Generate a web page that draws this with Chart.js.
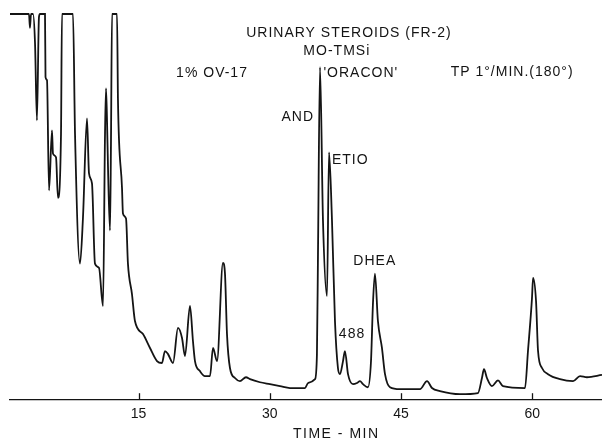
<!DOCTYPE html>
<html>
<head>
<meta charset="utf-8">
<script src="https://cdn.jsdelivr.net/npm/chart.js@4.4.1/dist/chart.umd.min.js"></script>
<style>
  html, body { margin: 0; padding: 0; background: #fff; }
  #wrap { width: 602px; height: 441px; }
</style>
</head>
<body>
<div id="wrap"><canvas id="gcChart"></canvas></div>
<script>
// retention time (min) and detector response (% of full scale)
const timeMin = [
  0.31, 2.48, 2.59, 2.71, 2.94, 3.17, 3.39, 3.62, 3.74, 4.31,
  4.37, 4.54, 4.77, 5.11, 5.22, 5.57, 5.79, 6.14, 6.25, 7.51,
  7.74, 8.31, 8.65, 9.11, 9.34, 9.68, 10.02, 10.48, 10.94, 11.17,
  11.28, 11.39, 11.51, 11.74, 11.85, 11.97, 12.54, 12.65, 13.11, 13.22,
  13.57, 13.79, 14.25, 14.59, 15.51, 16.31, 17.11, 17.68, 18.02, 18.37,
  18.94, 19.51, 19.97, 20.31, 20.88, 21.22, 21.45, 22.02, 22.59, 23.17,
  23.51, 23.97, 24.65, 24.88, 25.11, 25.45, 26.02, 26.59, 27.28, 27.74,
  28.88, 30.02, 31.17, 32.31, 34.03, 34.37, 35.17, 35.39, 35.51, 35.74,
  36.08, 36.54, 36.77, 37.11, 37.45, 37.79, 38.02, 38.37, 38.59, 38.94,
  39.51, 39.97, 40.31, 40.65, 41.22, 41.57, 41.79, 42.02, 42.36, 42.82,
  43.17, 43.74, 44.88, 47.17, 47.97, 48.54, 49.45, 51.74, 53.79, 54.25,
  54.48, 54.82, 55.39, 56.08, 56.65, 59.17, 59.51, 59.97, 60.09, 60.43,
  60.66, 61.11, 61.80, 63.17, 64.66, 65.46, 66.25, 67.97
];
const response = [
  100, 100, 96.4, 100, 100, 92.4, 72.4, 99.2, 100, 100,
  83.6, 82.8, 54.2, 69.8, 63.8, 62.8, 52.3, 69.0, 100, 100,
  69.0, 35.2, 47.1, 72.9, 58.6, 56.0, 35.2, 34.1, 24.2, 69.0,
  80.7, 73.2, 60.2, 43.8, 66.4, 100, 100, 77.6, 54.9, 48.2,
  46.9, 35.2, 27.3, 20.3, 16.9, 13.3, 9.9, 9.4, 12.5, 11.7,
  9.4, 18.5, 15.9, 11.2, 24.2, 15.1, 9.9, 7.3, 6.0, 6.0,
  13.3, 9.9, 35.4, 32.6, 16.9, 8.1, 5.5, 4.7, 5.7, 5.2,
  4.4, 3.9, 3.4, 2.9, 2.9, 4.2, 5.2, 11.7, 37.8, 86.2,
  46.4, 26.8, 64.1, 46.4, 20.3, 8.1, 6.5, 9.9, 12.5, 6.5,
  3.9, 4.2, 4.7, 3.9, 3.1, 9.9, 24.7, 32.6, 20.3, 13.3,
  6.5, 3.1, 2.6, 2.6, 4.7, 2.9, 2.1, 1.3, 1.6, 5.5,
  7.8, 5.5, 3.4, 4.9, 3.4, 2.9, 12.5, 26.3, 31.5, 25.5,
  12.5, 8.1, 6.5, 5.2, 4.7, 6.0, 5.7, 6.3
];
const tickValues = [15, 30, 45, 60];

// text on the trace, placed in data units (min, %)
const notes = [
  { text: 'URINARY STEROIDS (FR-2)', x: 39.05, y: 95.1 },
  { text: 'MO-TMSi', x: 37.66, y: 90.4 },
  { text: '1% OV-17', x: 23.4, y: 84.6 },
  { text: "'ORACON'", x: 40.4, y: 84.6 },
  { text: 'TP 1°/MIN.(180°)', x: 57.7, y: 84.9 },
  { text: 'AND', x: 33.2, y: 73.2 },
  { text: 'ETIO', x: 39.2, y: 62.0 },
  { text: 'DHEA', x: 42.0, y: 35.9 },
  { text: '488', x: 39.4, y: 16.9 }
];

const INK = '#141414';
const FONT = '"Liberation Sans", Arial, sans-serif';

const notesPlugin = {
  id: 'notes',
  afterDatasetsDraw(chart) {
    const { ctx, scales: { x, y } } = chart;
    ctx.save();
    ctx.fillStyle = INK;
    ctx.strokeStyle = INK;
    ctx.font = '14px ' + FONT;
    ctx.letterSpacing = '1px';
    ctx.textAlign = 'center';
    ctx.textBaseline = 'middle';
    notes.forEach(n => {
      ctx.fillText(n.text, x.getPixelForValue(n.x), y.getPixelForValue(n.y));
    });

    // short tick marks standing up from the axis
    const base = y.getPixelForValue(0);
    ctx.lineWidth = 1.3;
    tickValues.forEach(v => {
      const px = Math.round(x.getPixelForValue(v)) + 0.5;
      ctx.beginPath();
      ctx.moveTo(px, base);
      ctx.lineTo(px, base - 6);
      ctx.stroke();
    });

    // axis title
    ctx.letterSpacing = '1.5px';
    ctx.fillText('TIME - MIN', x.getPixelForValue(37.6), base + 35);
    ctx.restore();
  }
};

new Chart(document.getElementById('gcChart'), {
  type: 'line',
  data: {
    datasets: [{
      data: timeMin.map((t, i) => ({ x: t, y: response[i] })),
      borderColor: INK,
      borderWidth: 1.8,
      pointRadius: 0,
      cubicInterpolationMode: 'monotone',
      fill: false,
      clip: 6
    }]
  },
  options: {
    responsive: true,
    maintainAspectRatio: false,
    animation: false,
    events: [],
    layout: { padding: { left: 10, right: 0, top: 14, bottom: 11 } },
    plugins: {
      legend: { display: false },
      tooltip: { enabled: false }
    },
    scales: {
      x: {
        type: 'linear',
        min: 0.31,
        max: 67.97,
        afterBuildTicks: axis => { axis.ticks = tickValues.map(v => ({ value: v })); },
        grid: { display: false, drawTicks: false },
        border: { display: true, color: INK, width: 1.3 },
        ticks: {
          color: INK,
          padding: 7,
          font: { family: FONT, size: 14 },
          maxRotation: 0
        }
      },
      y: {
        display: false,
        min: 0,
        max: 100
      }
    }
  },
  plugins: [notesPlugin]
});
</script>
</body>
</html>
